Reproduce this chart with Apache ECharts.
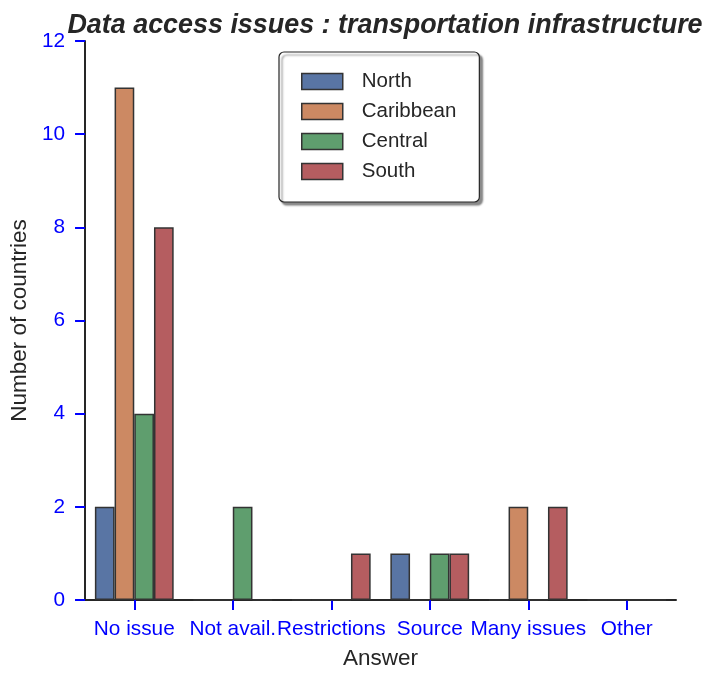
<!DOCTYPE html>
<html>
<head>
<meta charset="utf-8">
<script src="https://cdn.jsdelivr.net/npm/echarts@6/dist/echarts.min.js"></script>
<style>
  html, body { margin: 0; padding: 0; background: #fff; overflow: hidden; }
  #chart { width: 703px; height: 675px; }
</style>
</head>
<body>
<div id="chart"></div>
<script>
// Answer categories on the x axis
const categories = ['No issue', 'Not avail.', 'Restrictions', 'Source', 'Many issues', 'Other'];

// Number of countries per region for each answer
const north     = [2, 0, 0, 1, 0, 0];
const caribbean = [11, 0, 0, 0, 2, 0];
const central   = [4, 2, 0, 1, 0, 0];
const south     = [8, 0, 1, 1, 2, 0];

const yTicks = [0, 2, 4, 6, 8, 10, 12];

const regions = [
  { name: 'North',     values: north,     color: '#5975a4' },
  { name: 'Caribbean', values: caribbean, color: '#cc8963' },
  { name: 'Central',   values: central,   color: '#5f9e6e' },
  { name: 'South',     values: south,     color: '#b55d60' }
];

const FONT = '"Liberation Sans", Arial, sans-serif';
const TICK_BLUE = '#0000ff';
const INK = '#262626';

const chart = echarts.init(document.getElementById('chart'), null, {
  renderer: 'canvas', width: 703, height: 675
});

chart.setOption({
  animation: false,
  backgroundColor: '#ffffff',
  textStyle: { fontFamily: FONT },
  title: {
    text: 'Data access issues : transportation infrastructure',
    left: 380,
    top: 7,
    textAlign: 'center',
    textStyle: {
      fontFamily: FONT,
      fontSize: 26.9,
      fontWeight: 'bold',
      fontStyle: 'italic',
      color: INK
    }
  },
  legend: {
    orient: 'vertical',
    left: 279,
    top: 52,
    padding: [19, 23, 20, 22],
    itemWidth: 41,
    itemHeight: 16,
    itemGap: 9,
    icon: 'rect',
    backgroundColor: '#ffffff',
    borderColor: INK,
    borderWidth: 1.2,
    borderRadius: 5,
    shadowColor: 'rgba(0,0,0,0.45)',
    shadowBlur: 2,
    shadowOffsetX: 3,
    shadowOffsetY: 3,
    itemStyle: { borderColor: '#333333', borderWidth: 1.5 },
    textStyle: {
      fontFamily: FONT,
      fontSize: 20.5,
      lineHeight: 21,
      color: INK,
      padding: [0, 0, 0, 14]
    },
    data: regions.map(r => r.name)
  },
  grid: { left: 83, top: 41, width: 593, height: 563, containLabel: false },
  xAxis: {
    type: 'category',
    data: categories,
    name: 'Answer',
    nameLocation: 'middle',
    nameGap: 47,
    nameTextStyle: { fontFamily: FONT, fontSize: 22.5, color: INK },
    axisLine: { show: true, lineStyle: { color: INK, width: 2 } },
    axisTick: { show: true, alignWithLabel: true, length: 10, lineStyle: { color: TICK_BLUE, width: 2 } },
    axisLabel: { interval: 0, color: TICK_BLUE, fontFamily: FONT, fontSize: 20.8, margin: 19, hideOverlap: false },
    splitLine: { show: false }
  },
  yAxis: {
    type: 'value',
    min: yTicks[0],
    max: yTicks[yTicks.length - 1],
    interval: yTicks[1] - yTicks[0],
    name: 'Number of countries',
    nameLocation: 'middle',
    nameRotate: 90,
    nameGap: 52,
    nameTextStyle: { fontFamily: FONT, fontSize: 22.5, color: INK },
    axisLine: { show: true, lineStyle: { color: INK, width: 2 } },
    axisTick: { show: true, length: 10, lineStyle: { color: TICK_BLUE, width: 2 } },
    axisLabel: { color: TICK_BLUE, fontFamily: FONT, fontSize: 20.8, margin: 20 },
    splitLine: { show: false }
  },
  series: regions.map(r => ({
    name: r.name,
    type: 'bar',
    data: r.values,
    barGap: '0%',
    barCategoryGap: '20%',
    itemStyle: { color: r.color, borderColor: '#333333', borderWidth: 1.5 }
  }))
});
</script>
</body>
</html>
